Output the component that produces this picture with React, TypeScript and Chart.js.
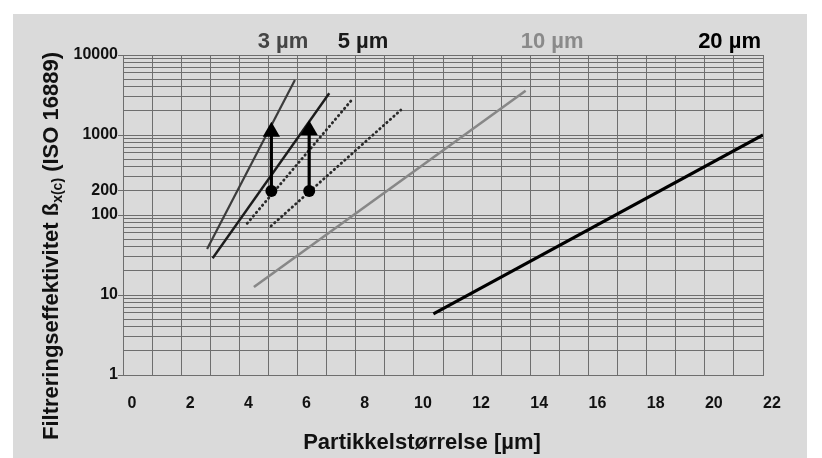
import { useEffect, useRef } from 'react';
import { Chart, registerables } from 'chart.js';
Chart.register(...registerables);

// ---- data ----
const xTickValues = [0, 1, 2, 3, 4, 5, 6, 7, 8, 9, 10, 11, 12, 13, 14, 15, 16, 17, 18, 19, 20, 21, 22];
const yTickValues = [
  1, 2, 3, 4, 5, 6, 7, 8, 9,
  10, 20, 30, 40, 50, 60, 70, 80, 90,
  100, 200, 300, 400, 500, 600, 700, 800, 900,
  1000, 2000, 3000, 4000, 5000, 6000, 7000, 8000, 9000,
  10000,
];
const yLabelValues = [1, 10, 100, 200, 1000, 10000];

const line3um = [{ x: 2.89, y: 37.6 }, { x: 5.91, y: 4870 }];
const line5um = [{ x: 3.08, y: 28.8 }, { x: 7.09, y: 3320 }];
const dotted3um = [{ x: 4.27, y: 78.7 }, { x: 7.84, y: 2680 }];
const dotted5um = [{ x: 5.09, y: 72.9 }, { x: 9.55, y: 2050 }];
const line10um = [{ x: 4.5, y: 12.6 }, { x: 13.84, y: 3580 }];
const line20um = [{ x: 10.67, y: 5.8 }, { x: 22, y: 1000 }];
const arrow1 = [{ x: 5.1, y: 200 }, { x: 5.1, y: 1100 }];
const arrow2 = [{ x: 6.4, y: 200 }, { x: 6.4, y: 1150 }];

const topLabels = ['3 µm', '5 µm', '10 µm', '20 µm'];
const xTitle = 'Partikkelstørrelse [µm]';
const yTitleMain = 'Filtreringseffektivitet ß';
const yTitleSub = 'x(c)';
const yTitleRest = ' (ISO 16889)';

const FONT = '"Liberation Sans", Arial, sans-serif';
const GRID = '#6e6e6e';

export default function App() {
  const ref = useRef<HTMLCanvasElement | null>(null);

  useEffect(() => {
    if (!ref.current) return;

    const bgPlugin = {
      id: 'bg',
      beforeDraw(chart: any) {
        const ctx = chart.ctx;
        ctx.save();
        ctx.fillStyle = '#ffffff';
        ctx.fillRect(0, 0, chart.width, chart.height);
        ctx.fillStyle = '#dadada';
        ctx.fillRect(13, 14, 794, chart.height - 14);
        ctx.restore();
      },
    };

    const textPlugin = {
      id: 'texts',
      afterDraw(chart: any) {
        const ctx = chart.ctx;
        const xs = chart.scales.x;
        const area = chart.chartArea;
        ctx.save();
        // top series labels
        const topPos = [5.5, 8.25, 14.75, 20.85];
        const topColors = ['#454545', '#1a1a1a', '#8a8a8a', '#000000'];
        ctx.font = `bold 22px ${FONT}`;
        ctx.textAlign = 'center';
        ctx.textBaseline = 'middle';
        topLabels.forEach((t, i) => {
          ctx.fillStyle = topColors[i];
          ctx.fillText(t, xs.getPixelForValue(topPos[i]), area.top - 13);
        });
        // x title
        ctx.fillStyle = '#111';
        ctx.font = `bold 22px ${FONT}`;
        ctx.fillText(xTitle, 422, area.bottom + 68);
        // y title (rotated, with subscript)
        const mainFont = `bold 22px ${FONT}`;
        const subFont = `bold 14px ${FONT}`;
        ctx.font = mainFont;
        const w1 = ctx.measureText(yTitleMain).width;
        const w3 = ctx.measureText(yTitleRest).width;
        ctx.font = subFont;
        const w2 = ctx.measureText(yTitleSub).width;
        const total = w1 + w2 + w3;
        const topY = area.top - 3;
        ctx.translate(50, topY + total);
        ctx.rotate(-Math.PI / 2);
        ctx.textAlign = 'left';
        ctx.textBaseline = 'alphabetic';
        ctx.font = mainFont;
        ctx.fillText(yTitleMain, 0, 8);
        ctx.font = subFont;
        ctx.fillText(yTitleSub, w1, 12);
        ctx.font = mainFont;
        ctx.fillText(yTitleRest, w1 + w2, 8);
        ctx.restore();
      },
    };

    const lineDs = (data: any[], color: string, width: number, extra: any = {}) => ({
      data,
      borderColor: color,
      backgroundColor: color,
      borderWidth: width,
      pointRadius: 0,
      fill: false,
      tension: 0,
      ...extra,
    });

    const arrowExtra = {
      pointRadius: [6, 10],
      pointStyle: ['circle', 'triangle'],
      pointBackgroundColor: '#000',
      pointBorderColor: '#000',
      pointBorderWidth: 0,
    };

    const chart = new Chart(ref.current, {
      type: 'line',
      data: {
        datasets: [
          lineDs(arrow1, '#000', 3.2, arrowExtra),
          lineDs(arrow2, '#000', 3.2, arrowExtra),
          lineDs(line3um, '#3c3c3c', 2.2),
          lineDs(line5um, '#1c1c1c', 2.4),
          lineDs(dotted3um, '#2a2a2a', 2.8, { borderDash: [0.5, 4.2], borderCapStyle: 'round' }),
          lineDs(dotted5um, '#2a2a2a', 2.8, { borderDash: [0.5, 4.2], borderCapStyle: 'round' }),
          lineDs(line10um, '#878787', 2.6),
          lineDs(line20um, '#000', 3.2),
        ] as any,
      },
      options: {
        responsive: false,
        devicePixelRatio: 1,
        animation: false,
        layout: { padding: { left: 0, top: 55, right: 59, bottom: 0 } },
        plugins: { legend: { display: false }, tooltip: { enabled: false } },
        scales: {
          x: {
            type: 'linear',
            min: 0,
            max: 22,
            afterFit(scale: any) { scale.height = 83; },
            afterBuildTicks(scale: any) { scale.ticks = xTickValues.map((v) => ({ value: v })); },
            grid: { color: GRID, lineWidth: 1, drawTicks: false },
            border: { color: GRID, width: 1 },
            ticks: {
              autoSkip: false,
              maxRotation: 0,
              padding: 19,
              labelOffset: 9,
              color: '#111',
              font: { family: FONT, weight: 'bold', size: 16 },
              callback: (v: any) => (Number(v) % 2 === 0 ? String(v) : ''),
            },
          },
          y: {
            type: 'logarithmic',
            min: 1,
            max: 10000,
            afterFit(scale: any) { scale.width = 123; },
            afterBuildTicks(scale: any) { scale.ticks = yTickValues.map((v) => ({ value: v })); },
            grid: {
              color: GRID,
              lineWidth: 1,
              tickLength: 5,
              tickColor: (c: any) => (c.tick && yLabelValues.includes(c.tick.value) ? GRID : 'rgba(0,0,0,0)'),
            },
            border: { color: GRID, width: 1 },
            ticks: {
              autoSkip: false,
              padding: 0,
              color: '#111',
              font: { family: FONT, weight: 'bold', size: 16 },
              callback: (v: any) => (yLabelValues.includes(Number(v)) ? String(v) : ''),
            },
          },
        },
      } as any,
      plugins: [bgPlugin, textPlugin],
    });
    return () => chart.destroy();
  }, []);

  return (
    <div style={{ position: 'fixed', left: 0, top: 0, width: 822, height: 458, background: '#fff' }}>
      <canvas ref={ref} width={822} height={458} style={{ display: 'block', width: 822, height: 458 }} />
    </div>
  );
}
